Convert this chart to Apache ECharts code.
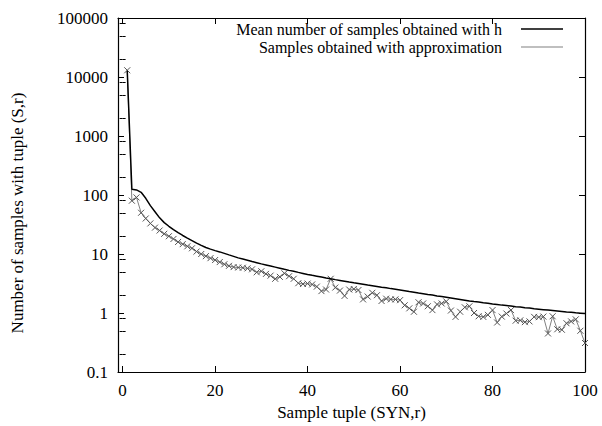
<!DOCTYPE html>
<html>
<head>
<meta charset="utf-8">
<script src="https://cdn.jsdelivr.net/npm/echarts@6/dist/echarts.min.js"></script>
<style>
html,body{margin:0;padding:0;background:#fff;}
#c{width:602px;height:426px;}
</style>
</head>
<body>
<div id="c"></div>
<script>
// ---- data ----
const xValues = [];
for (let i = 1; i <= 100; i++) xValues.push(i);

const meanH = [12800,125,122,111,88,66,52,41,34,29.5,
  25.8,23,20.6,18.6,16.9,15.3,14,12.9,12.1,11.4,
  10.85,10.24,9.66,9.12,8.6,8.21,7.83,7.47,7.13,6.8,
  6.52,6.25,5.99,5.74,5.5,5.28,5.08,4.88,4.69,4.5,
  4.35,4.21,4.07,3.93,3.8,3.68,3.57,3.46,3.35,3.25,
  3.16,3.07,2.98,2.9,2.82,2.74,2.67,2.59,2.52,2.45,
  2.38,2.31,2.25,2.18,2.12,2.06,2.01,1.95,1.9,1.85,
  1.8,1.75,1.7,1.65,1.6,1.56,1.53,1.49,1.46,1.42,
  1.39,1.36,1.34,1.31,1.28,1.26,1.23,1.21,1.18,1.16,
  1.14,1.12,1.1,1.08,1.06,1.04,1.03,1.01,0.995,0.98];

const approx = [13000,80,91,50,40,33,28,25,22,20,
  18,16,14.7,13.5,12.5,11,10,9.2,8.5,7.9,
  7.3,6.7,6.3,6.0,5.9,5.85,5.7,5.5,4.9,5.1,
  4.6,4.3,3.8,4.1,4.7,4.2,3.8,3.2,3.1,3.15,
  3.05,2.8,2.35,2.5,3.8,2.7,2.4,1.95,2.5,2.55,
  2.45,1.7,1.9,2.2,2.0,1.6,1.75,1.7,1.7,1.65,
  1.35,1.2,1.05,1.52,1.45,1.3,1.12,1.4,1.45,1.57,
  1.1,0.86,1.05,1.25,1.3,1.0,0.88,0.86,0.93,1.12,
  0.69,0.87,0.98,1.12,0.74,0.75,0.7,0.72,0.86,0.85,
  0.87,0.45,0.88,0.53,0.52,0.67,0.72,0.78,0.5,0.31];

const xTicks = [0,20,40,60,80,100];
const yTicks = [0.1,1,10,100,1000,10000,100000];
const yMinorTicks = [0.2,0.5,0.8,2,5,8,20,50,80,200,500,800,2000,5000,8000,20000,50000,80000];

const seriesNames = ['Mean number of samples obtained with h','Samples obtained with approximation'];
const xTitle = 'Sample tuple (SYN,r)';
const yTitle = 'Number of samples with tuple (S,r)';

// ---- chart ----
const FONT = 'Liberation Serif';
const chart = echarts.init(document.getElementById('c'), null, {renderer:'svg'});

function pairs(ys){ return ys.map((y,i)=>[xValues[i], y]); }

const baseY = {type:'log', logBase:10, min:0.1, max:100000, splitLine:{show:false}};
const baseX = {type:'value', min:-1, max:100, splitLine:{show:false}};

const option = {
  animation:false,
  backgroundColor:'#fff',
  grid:{left:118, right:17, top:18, bottom:45, containLabel:false},
  xAxis:[
    Object.assign({}, baseX, {
      position:'bottom',
      axisLine:{show:true, onZero:false, lineStyle:{color:'#000', width:1.2}},
      axisTick:{show:true, inside:true, length:6, lineStyle:{color:'#000'}, customValues:xTicks},
      axisLabel:{show:true, margin:10, fontFamily:FONT, fontSize:17, color:'#000', customValues:xTicks},
      name:xTitle, nameLocation:'middle', nameGap:32,
      nameTextStyle:{fontFamily:FONT, fontSize:17, color:'#000'}
    }),
    Object.assign({}, baseX, {
      position:'top',
      axisLine:{show:true, onZero:false, lineStyle:{color:'#000', width:1.2}},
      axisTick:{show:true, inside:true, length:6, lineStyle:{color:'#000'}, customValues:xTicks},
      axisLabel:{show:false}
    })
  ],
  yAxis:[
    Object.assign({}, baseY, {
      position:'left',
      axisLine:{show:true, onZero:false, lineStyle:{color:'#000', width:1.2}},
      axisTick:{show:true, inside:true, length:6, lineStyle:{color:'#000'}, customValues:yTicks},
      axisLabel:{show:true, margin:10, fontFamily:FONT, fontSize:17, color:'#000', customValues:yTicks,
        formatter:function(v){ return yTicks.find(t=>Math.abs(Math.log10(t)-Math.log10(v))<1e-6).toString(); }}
    }),
    Object.assign({}, baseY, {
      position:'left',
      axisLine:{show:false},
      axisTick:{show:true, inside:true, length:3, lineStyle:{color:'#000'}, customValues:yMinorTicks},
      axisLabel:{show:false}
    }),
    Object.assign({}, baseY, {
      position:'right',
      axisLine:{show:true, onZero:false, lineStyle:{color:'#000', width:1.2}},
      axisTick:{show:true, inside:true, length:6, lineStyle:{color:'#000'}, customValues:yTicks},
      axisLabel:{show:false}
    }),
    Object.assign({}, baseY, {
      position:'right',
      axisLine:{show:false},
      axisTick:{show:true, inside:true, length:3, lineStyle:{color:'#000'}, customValues:yMinorTicks},
      axisLabel:{show:false}
    })
  ],
  legend:{
    orient:'vertical',
    right:34, top:16,
    align:'right',
    itemWidth:42, itemHeight:1.5, itemGap:2,
    textStyle:{fontFamily:FONT, fontSize:16, color:'#000', padding:[0,14,0,0]},
    selectedMode:false,
    data:[
      {name:seriesNames[0], icon:'rect', itemStyle:{color:'#000', borderWidth:0}},
      {name:seriesNames[1], icon:'rect', itemStyle:{color:'#aaaaaa', borderWidth:0}}
    ]
  },
  graphic:[{
    type:'text', left:9, top:'center',
    style:{text:yTitle, font:'17px "Liberation Serif"', fill:'#000'},
    rotation:Math.PI/2
  }],
  series:[
    {
      name:seriesNames[0], type:'line', xAxisIndex:0, yAxisIndex:0,
      data:pairs(meanH), showSymbol:false, symbol:'none',
      lineStyle:{color:'#000', width:1.5}, itemStyle:{color:'#000'}, z:3
    },
    {
      name:seriesNames[1], type:'line', xAxisIndex:0, yAxisIndex:0,
      data:pairs(approx), showSymbol:true, symbol:'path://M0,0L10,10M10,0L0,10', symbolSize:6,
      lineStyle:{color:'#808080', width:1},
      itemStyle:{color:'none', borderColor:'#555', borderWidth:1}, z:2
    }
  ]
};
chart.setOption(option);
</script>
</body>
</html>
